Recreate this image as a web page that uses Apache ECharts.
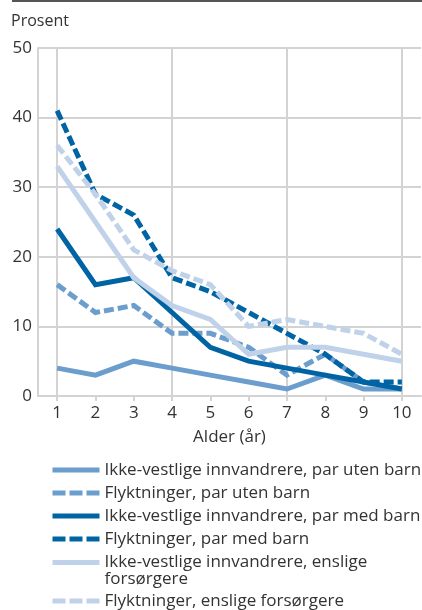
<!DOCTYPE html>
<html><head><meta charset="utf-8">
<script src="https://cdn.jsdelivr.net/npm/echarts@6/dist/echarts.min.js"></script>
<style>html,body{margin:0;padding:0;background:#fff}#c{width:422px;height:610px}</style>
</head><body><div id="c"></div>
<script>
const ages = [1, 2, 3, 4, 5, 6, 7, 8, 9, 10];
const gridAges = [1, 4, 7, 10];
const ikkeParUten = [4, 3, 5, 4, 3, 2, 1, 3, 1, 1];
const flyktParUten = [16, 12, 13, 9, 9, 7, 3, 6, 2, 1];
const ikkeParMed = [24, 16, 17, 12, 7, 5, 4, 3, 2, 1];
const flyktParMed = [41, 29, 26, 17, 15, 12, 9, 6, 2, 2];
const ikkeEnslige = [33, 25, 17, 13, 11, 6, 7, 7, 6, 5];
const flyktEnslige = [36, 29, 21, 18, 16, 10, 11, 10, 9, 6];
const names = [
  'Ikke-vestlige innvandrere, par uten barn',
  'Flyktninger, par uten barn',
  'Ikke-vestlige innvandrere, par med barn',
  'Flyktninger, par med barn',
  'Ikke-vestlige innvandrere, enslige forsørgere',
  'Flyktninger, enslige forsørgere'
];
const values = [ikkeParUten, flyktParUten, ikkeParMed, flyktParMed, ikkeEnslige, flyktEnslige];
const colors = ['#6b9dcd', '#6b9dcd', '#0064a4', '#0064a4', '#c0d2e9', '#c0d2e9'];
const dashed = [false, true, false, true, false, true];

const FONT = 'Open Sans';
const FS = 17;
const GRID = '#d3d3d3';
const chart = echarts.init(document.getElementById('c'));
const series = values.map((v, i) => ({
  name: names[i],
  type: 'line',
  xAxisIndex: 0,
  data: ages.map((a, j) => [a, v[j]]),
  symbol: 'none',
  showSymbol: false,
  lineStyle: { color: colors[i], width: 5, type: dashed[i] ? [10, 4] : 'solid', cap: 'butt', join: 'miter' },
  itemStyle: { color: colors[i] }
}));
const legendText = {
  fontFamily: FONT, fontSize: FS, color: '#333', lineHeight: 18,
  rich: {
    a: { fontFamily: FONT, fontSize: FS, color: '#333', lineHeight: 18 },
    b: { fontFamily: FONT, fontSize: FS, color: '#333', lineHeight: 1, verticalAlign: 'top' }
  }
};
const legendFormatter = function (n) {
  if (n === names[4]) return '{a|Ikke-vestlige innvandrere, enslige}\n{b|forsørgere}';
  return n;
};
const legendItem = (i) => ({
  name: names[i],
  lineStyle: { width: 5, type: dashed[i] ? [13, 4] : 'solid', cap: 'butt' }
});
const legendBase = {
  orient: 'vertical', left: 50, padding: 0, itemWidth: 47, itemHeight: 14, itemGap: 5,
  formatter: legendFormatter, textStyle: legendText,
  itemStyle: { opacity: 0 },
  lineStyle: { width: 5 }
};
chart.setOption({
  animation: false,
  title: { text: 'Prosent', left: 11, top: 13, padding: 0, textStyle: { fontFamily: FONT, fontSize: 16, fontWeight: 'normal', color: '#333' } },
  graphic: [{ type: 'line', shape: { x1: 12, y1: 1, x2: 422, y2: 1 }, style: { stroke: '#555', lineWidth: 2 } }],
  grid: { left: 38, right: 1, top: 48, bottom: 214, containLabel: false, outerBoundsMode: 'none' },
  xAxis: [
    {
      type: 'value', min: 0.5, max: 10.5,
      name: 'Alder (år)', nameLocation: 'middle', nameGap: 33,
      nameTextStyle: { fontFamily: FONT, fontSize: FS, color: '#333' },
      axisLine: { show: true, lineStyle: { color: GRID, width: 2 } },
      axisTick: { show: true, customValues: ages, length: 5, lineStyle: { color: GRID, width: 2 } },
      axisLabel: { customValues: ages, fontFamily: FONT, fontSize: FS, color: '#333', margin: 9 },
      splitLine: { show: false }
    },
    {
      type: 'value', min: 0.5, max: 10.5, position: 'bottom',
      axisLine: { show: false },
      axisTick: { show: false, customValues: gridAges },
      axisLabel: { show: false, customValues: gridAges },
      splitLine: { show: true, lineStyle: { color: GRID, width: 2 } }
    }
  ],
  yAxis: {
    type: 'value', min: 0, max: 50, interval: 10,
    axisLine: { show: true, lineStyle: { color: GRID, width: 2 } },
    axisTick: { show: false },
    axisLabel: { fontFamily: FONT, fontSize: FS, color: '#333', margin: 6 },
    splitLine: { show: true, lineStyle: { color: GRID, width: 2 } }
  },
  legend: [
    Object.assign({}, legendBase, { top: 461, data: [0, 1, 2, 3, 4].map(legendItem) }),
    Object.assign({}, legendBase, { top: 592, data: [legendItem(5)] })
  ],
  series: series
});
</script></body></html>
